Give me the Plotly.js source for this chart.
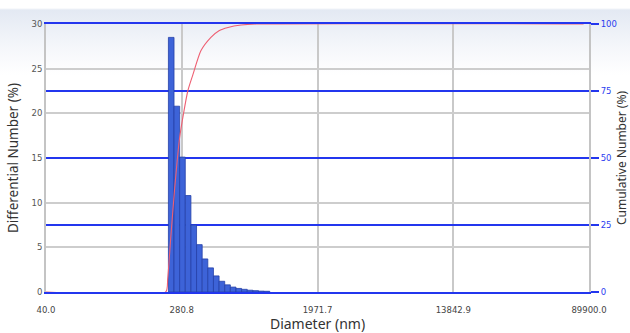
<!DOCTYPE html>
<html>
<head>
<meta charset="utf-8">
<script src="https://cdn.plot.ly/plotly-3.0.1.min.js"></script>
<style>
html,body{margin:0;padding:0;}
body{width:630px;height:333px;background:linear-gradient(#ffffff 0px,#ffffff 8px,#e3e9f3 10px,#f4f6fa 45px,#ffffff 75px);}
#chart{width:630px;height:333px;}
</style>
</head>
<body>
<div id="chart"></div>
<script>
// Differential number distribution (bars), diameters in nm
const binDiameters = [241.4, 261.7, 283.7, 307.6, 333.5, 361.6, 392.1, 425.1, 460.9, 499.7, 541.8, 587.4, 636.9, 690.5, 748.6, 811.7, 880.0, 954.1];
const differentialNumber = [28.5, 20.8, 15.1, 10.8, 7.5, 5.3, 3.7, 2.7, 1.8, 1.2, 0.8, 0.55, 0.4, 0.3, 0.2, 0.15, 0.1, 0.08];

// Cumulative number curve
const cumDiameters = [40, 222.9, 229.5, 239.6, 253.9, 272.9, 306.3, 329.2, 369.5, 426.8, 479.1, 545.6, 658.5, 817.7, 89900];
const cumulativeNumber = [0, 0, 5, 20, 39, 58, 75, 81, 90, 95, 97.5, 98.7, 99.6, 100, 100];

// Axis tick labels
const xTickLabels = ['40.0', '280.8', '1971.7', '13842.9', '89900.0'];
const yLeftTicks = [0, 5, 10, 15, 20, 25, 30];
const yRightTicks = [0, 25, 50, 75, 100];

const lg = v => Math.log10(v);
const lo = lg(40);
const step = lg(280.8 / 40);
const tickPos = xTickLabels.map((_, i) => lo + i * step);
const binStep = lg(binDiameters[1] / binDiameters[0]);

const bars = {
  type: 'bar',
  x: binDiameters.map(lg),
  y: differentialNumber,
  width: binStep,
  marker: {color: '#3d63d8', line: {color: '#2440a8', width: 0.8}},
  xaxis: 'x', yaxis: 'y',
  hoverinfo: 'skip'
};
const cum = {
  type: 'scatter', mode: 'lines',
  x: cumDiameters.map(lg),
  y: cumulativeNumber,
  line: {color: '#ee5f72', width: 1.1, shape: 'spline', smoothing: 0.6},
  xaxis: 'x', yaxis: 'y2',
  hoverinfo: 'skip'
};

const layout = {
  width: 630, height: 333,
  margin: {l: 46, r: 41, t: 24, b: 41},
  paper_bgcolor: 'rgba(0,0,0,0)',
  plot_bgcolor: 'rgba(0,0,0,0)',
  showlegend: false,
  font: {family: 'DejaVu Sans, Verdana, sans-serif', color: '#444'},
  xaxis: {
    range: [lo, lo + 4 * step],
    tickvals: tickPos, ticktext: xTickLabels,
    tickfont: {size: 8.5, color: '#444'},
    ticklabelstandoff: 9,
    showgrid: true, gridcolor: '#c9c9c9', gridwidth: 2,
    zeroline: false, showline: true, mirror: true, linecolor: '#2336ee', linewidth: 2, ticks: '',
    automargin: false,
    title: {text: 'Diameter (nm)', font: {size: 14, color: '#333', family: 'Noto Sans, Open Sans, sans-serif'}, standoff: 12}
  },
  yaxis: {
    range: [0, 30], tickvals: yLeftTicks,
    tickfont: {size: 8.5, color: '#555'},
    showgrid: true, gridcolor: '#cdcdcd', gridwidth: 2,
    zeroline: false, showline: true, linecolor: '#c4c4c4', linewidth: 2, ticks: '',
    automargin: false,
    title: {text: 'Differential Number (%)', font: {size: 13.5, color: '#333', family: 'Noto Sans, Open Sans, sans-serif'}, standoff: 10}
  },
  yaxis2: {
    overlaying: 'y', side: 'right',
    range: [0, 100], tickvals: yRightTicks,
    tickfont: {size: 8.5, color: '#2b3cf0'},
    showgrid: true, gridcolor: '#2336ee', gridwidth: 2.2,
    zeroline: false, showline: true, linecolor: '#c4c4c4', linewidth: 2,
    ticks: 'outside', ticklen: 8, tickwidth: 2, tickcolor: '#2336ee',
    automargin: false,
    title: {text: 'Cumulative Number (%)', font: {size: 12, color: '#333', family: 'Noto Sans, Open Sans, sans-serif'}, standoff: 8}
  }
};

Plotly.newPlot('chart', [bars, cum], layout, {displayModeBar: false, staticPlot: true});
</script>
</body>
</html>
